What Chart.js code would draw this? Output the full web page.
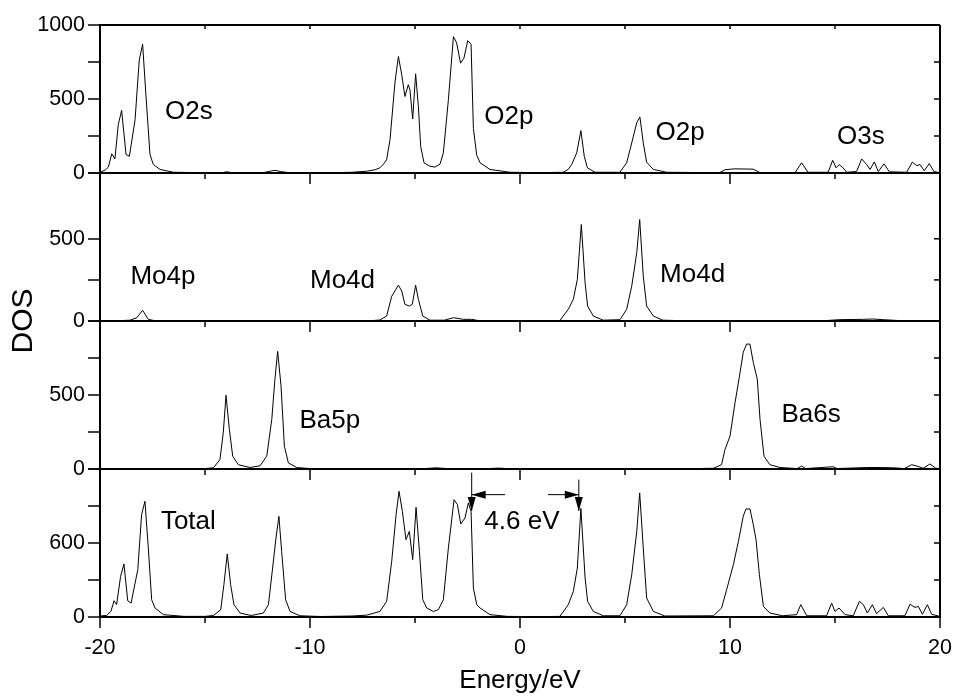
<!DOCTYPE html>
<html>
<head>
<meta charset="utf-8">
<title>DOS</title>
<script src="https://cdn.jsdelivr.net/npm/chart.js@4.4.1/dist/chart.umd.min.js"></script>
<style>
  html, body { margin: 0; padding: 0; background: #fff; }
  #wrap { width: 961px; height: 697px; }
</style>
</head>
<body>
<div id="wrap"><canvas id="dosChart" width="961" height="697"></canvas></div>
<script>
// Energy axis
const energyTicks = [-20, -10, 0, 10, 20];

// O partial DOS
const oEnergy = [-20, -19.75, -19.6, -19.44, -19.29, -19.13, -18.97, -18.76, -18.6, -18.33, -18.13, -17.97, -17.81, -17.62, -17.46, -17.14, -16.5, -15, -14.2, -13.97, -13.7, -12.2, -11.9, -11.67, -11.4, -11.0, -9, -8, -7.3, -6.9, -6.67, -6.5, -6.35, -6.19, -5.95, -5.79, -5.63, -5.48, -5.32, -5.24, -5.11, -4.97, -4.84, -4.73, -4.57, -4.29, -4.05, -3.81, -3.65, -3.41, -3.17, -3.02, -2.83, -2.67, -2.49, -2.33, -2.22, -2.06, -1.9, -1.43, -0.48, 1, 2.06, 2.3, 2.46, 2.7, 2.9, 3.06, 3.21, 3.57, 4.76, 5.08, 5.32, 5.56, 5.71, 5.87, 6.03, 6.35, 6.98, 9.5, 9.76, 10.2, 11.1, 11.43, 13.1, 13.41, 13.71, 14.67, 14.89, 15.05, 15.2, 15.38, 15.56, 16.03, 16.27, 16.51, 16.67, 16.87, 17.06, 17.33, 17.59, 18.41, 18.68, 18.89, 19.05, 19.25, 19.49, 19.71, 20];
const oDos = [5, 20, 40, 130, 95, 327, 423, 125, 113, 360, 764, 870, 520, 125, 57, 24, 5, 2, 2, 8, 2, 3, 12, 18, 10, 2, 2, 5, 12, 22, 35, 60, 90, 225, 618, 787, 663, 517, 596, 562, 365, 670, 450, 180, 69, 46, 40, 60, 136, 495, 921, 881, 742, 776, 894, 870, 300, 120, 69, 24, 5, 2, 5, 25, 57, 136, 286, 113, 35, 5, 5, 69, 203, 340, 378, 203, 73, 24, 5, 2, 22, 28, 26, 3, 3, 69, 5, 5, 86, 35, 57, 35, 5, 10, 95, 57, 24, 75, 10, 62, 8, 5, 73, 50, 57, 15, 64, 10, 2];
const oTicks = [0, 500, 1000];

// Mo partial DOS
const moEnergy = [-20, -18.9, -18.57, -18.25, -17.97, -17.7, -17.4, -12, -7, -6.67, -6.35, -6.11, -5.79, -5.63, -5.48, -5.27, -5.13, -4.97, -4.84, -4.63, -4.29, -3.6, -3.17, -2.7, -2.3, -2.0, 1.0, 1.9, 2.3, 2.54, 2.73, 2.92, 3.1, 3.22, 3.49, 3.97, 4.76, 5.08, 5.32, 5.56, 5.7, 5.87, 6.03, 6.35, 6.8, 8, 14.5, 15.2, 16.3, 16.8, 17.3, 18, 20];
const moDos = [0, 3, 5, 20, 65, 10, 2, 1, 3, 6, 30, 150, 218, 182, 101, 91, 101, 217, 132, 30, 5, 5, 20, 10, 10, 3, 1, 3, 71, 132, 253, 587, 233, 91, 30, 5, 8, 71, 212, 415, 617, 273, 91, 30, 5, 1, 2, 8, 10, 12, 8, 3, 2];
const moTicks = [0, 500];

// Ba partial DOS
const baEnergy = [-20, -15, -14.6, -14.29, -14.13, -14.0, -13.84, -13.68, -13.41, -12.86, -12.38, -12.06, -11.82, -11.67, -11.54, -11.38, -11.22, -11.03, -10.63, -10, -4.5, -4, -3.5, -1.5, -1, -0.5, 8, 9.21, 9.6, 9.76, 10.0, 10.24, 10.44, 10.63, 10.79, 10.95, 11.11, 11.3, 11.43, 11.62, 11.9, 12.38, 13.2, 13.41, 13.6, 14.9, 15.1, 16.5, 17.2, 17.8, 18.3, 18.65, 18.9, 19.2, 19.52, 19.8, 20];
const baDos = [0, 3, 8, 63, 245, 498, 267, 86, 29, 10, 22, 86, 335, 607, 795, 561, 154, 41, 10, 3, 3, 8, 3, 3, 6, 2, 2, 5, 29, 131, 222, 448, 618, 788, 844, 844, 720, 607, 335, 86, 29, 10, 3, 20, 3, 15, 3, 10, 10, 8, 3, 29, 20, 5, 34, 5, 3];
const baTicks = [0, 500];

// Total DOS
const totEnergy = [-20, -19.68, -19.48, -19.33, -19.21, -19.02, -18.86, -18.68, -18.52, -18.2, -18.02, -17.86, -17.7, -17.54, -17.38, -16.98, -16.0, -15, -14.6, -14.25, -14.1, -13.94, -13.78, -13.62, -13.33, -12.8, -12.22, -11.98, -11.78, -11.62, -11.48, -11.35, -11.16, -10.95, -10.48, -9.5, -8, -7.3, -6.67, -6.35, -6.11, -5.9, -5.76, -5.6, -5.43, -5.27, -5.11, -4.95, -4.79, -4.63, -4.44, -4.13, -3.89, -3.65, -3.41, -3.14, -2.98, -2.82, -2.62, -2.46, -2.33, -2.22, -2.06, -1.9, -1.43, -0.6, 1, 1.9, 2.3, 2.54, 2.73, 2.9, 3.1, 3.22, 3.49, 3.97, 4.76, 5.08, 5.32, 5.56, 5.7, 5.87, 6.03, 6.35, 6.9, 9.21, 9.6, 9.84, 10.16, 10.4, 10.63, 10.76, 10.95, 11.11, 11.24, 11.4, 11.59, 11.9, 12.5, 13.17, 13.37, 13.65, 14.6, 14.84, 15.0, 15.19, 15.48, 15.87, 16.16, 16.35, 16.54, 16.78, 16.98, 17.3, 17.54, 18.33, 18.57, 18.81, 18.97, 19.16, 19.4, 19.6, 20];
const totDos = [8, 13, 45, 132, 100, 329, 430, 132, 113, 384, 830, 938, 560, 140, 73, 19, 5, 5, 12, 59, 262, 511, 262, 100, 32, 12, 32, 100, 397, 641, 816, 532, 140, 45, 10, 4, 8, 15, 45, 127, 451, 830, 1019, 856, 627, 694, 465, 889, 532, 140, 73, 45, 59, 140, 560, 951, 911, 754, 803, 925, 856, 235, 100, 73, 19, 5, 3, 5, 100, 208, 397, 880, 316, 127, 45, 10, 10, 100, 343, 694, 1006, 560, 154, 45, 8, 10, 73, 221, 424, 613, 816, 876, 876, 749, 627, 343, 86, 32, 10, 19, 100, 10, 10, 113, 45, 73, 19, 10, 127, 100, 32, 100, 27, 78, 10, 10, 103, 78, 86, 22, 100, 22, 5];
const totTicks = [0, 600];

// Peak labels (panel, text, energy, dos)
const panelNotes = [
    { axis: 'yO', text: 'O2s', e: -16.9, v: 410 },
    { axis: 'yO', text: 'O2p', e: -1.7, v: 380 },
    { axis: 'yO', text: 'O2p', e: 6.45, v: 272 },
    { axis: 'yO', text: 'O3s', e: 15.1, v: 242 },
    { axis: 'yMo', text: 'Mo4p', e: -18.55, v: 271 },
    { axis: 'yMo', text: 'Mo4d', e: -10.0, v: 243 },
    { axis: 'yMo', text: 'Mo4d', e: 6.67, v: 283 },
    { axis: 'yBa', text: 'Ba5p', e: -10.5, v: 328 },
    { axis: 'yBa', text: 'Ba6s', e: 12.45, v: 369 },
    { axis: 'yTot', text: 'Total', e: -17.1, v: 775 },
    { axis: 'yTot', text: '4.6 eV', e: -1.7, v: 775 }
];

// Band gap marker: valence band top and conduction band bottom
const gapEdges = [-2.3, 2.8];

const FONT = '"Liberation Sans", Arial, sans-serif';
Chart.defaults.font.family = FONT;
Chart.defaults.color = '#000';

function pairs(xs, ys) {
    return xs.map((x, i) => ({ x: x, y: ys[i] }));
}

function line(ctx, x1, y1, x2, y2) {
    ctx.beginPath();
    ctx.moveTo(x1, y1);
    ctx.lineTo(x2, y2);
    ctx.stroke();
}

function arrowHead(ctx, tipX, tipY, dx, dy, len, half) {
    // dx, dy: unit direction the arrow points to
    const bx = tipX - dx * len;
    const by = tipY - dy * len;
    ctx.beginPath();
    ctx.moveTo(tipX, tipY);
    ctx.lineTo(bx - dy * half, by + dx * half);
    ctx.lineTo(bx + dy * half, by - dx * half);
    ctx.closePath();
    ctx.fill();
}

// y axis for one panel
function panelAxis(weight, max, step, labels, drawTop) {
    return {
        type: 'linear',
        position: 'left',
        stack: 'dos',
        stackWeight: 1,
        weight: weight,
        min: 0,
        max: max,
        border: { display: true, color: '#000', width: 2 },
        grid: {
            color: c => (c.tick && (c.tick.value === 0 || (drawTop && c.tick.value === max))) ? '#000' : 'rgba(0,0,0,0)',
            lineWidth: 2,
            drawTicks: true,
            tickLength: 12,
            tickColor: '#000',
            tickWidth: 1.5
        },
        ticks: {
            stepSize: step,
            autoSkip: false,
            padding: 3,
            font: { size: 21.5 },
            color: '#000',
            callback: v => labels.includes(v) ? String(v) : ''
        },
        afterFit: s => { s.width = 100; }
    };
}

const frameDecor = {
    id: 'frameDecor',
    afterDatasetsDraw(chart) {
        const ctx = chart.ctx;
        const area = chart.chartArea;
        const xs = chart.scales.x;
        const ids = ['yO', 'yMo', 'yBa', 'yTot'];
        ctx.save();
        ctx.strokeStyle = '#000';
        ctx.fillStyle = '#000';

        // inward minor ticks on the right frame
        ctx.lineWidth = 1.5;
        ids.forEach(id => {
            const s = chart.scales[id];
            s.ticks.forEach(t => {
                if (t.value <= s.min || t.value >= s.max) return;
                const py = s.getPixelForValue(t.value);
                line(ctx, area.right, py, area.right - 6, py);
            });
        });

        // energy ticks below each panel (major 10 eV, minor 5 eV)
        const lows = ids.map(id => chart.scales[id].bottom);
        lows.forEach(yb => {
            for (let e = -20; e <= 20; e += 5) {
                const px = xs.getPixelForValue(e);
                const major = energyTicks.includes(e);
                line(ctx, px, yb, px, yb + (major ? 11 : 6));
            }
        });
        // small ticks inside the top frame
        for (let e = -15; e <= 15; e += 5) {
            const px = xs.getPixelForValue(e);
            line(ctx, px, area.top, px, area.top + 4);
        }

        // peak labels
        ctx.font = '26px ' + FONT;
        ctx.textAlign = 'left';
        ctx.textBaseline = 'middle';
        panelNotes.forEach(n => {
            const s = chart.scales[n.axis];
            ctx.fillText(n.text, xs.getPixelForValue(n.e), s.getPixelForValue(n.v));
        });

        // band gap arrows in the total panel
        const yt = chart.scales.yTot;
        const xv = xs.getPixelForValue(gapEdges[0]);
        const xc = xs.getPixelForValue(gapEdges[1]);
        const tipY = yt.getPixelForValue(860);
        const barY = yt.getPixelForValue(992);
        ctx.lineWidth = 1;
        line(ctx, xv, yt.getPixelForValue(1170), xv, tipY);
        line(ctx, xc, yt.getPixelForValue(1114), xc, tipY);
        arrowHead(ctx, xv, tipY, 0, 1, 14, 4);
        arrowHead(ctx, xc, tipY, 0, 1, 14, 4);
        line(ctx, xs.getPixelForValue(-0.71), barY, xv, barY);
        line(ctx, xs.getPixelForValue(1.33), barY, xc, barY);
        arrowHead(ctx, xv, barY, -1, 0, 14, 4);
        arrowHead(ctx, xc, barY, 1, 0, 14, 4);

        // shared y title
        ctx.font = '30px ' + FONT;
        ctx.textAlign = 'center';
        ctx.translate(24, (area.top + area.bottom) / 2);
        ctx.rotate(-Math.PI / 2);
        ctx.fillText('DOS', 0, 0);
        ctx.restore();
    }
};

function dosLine(xs, ys, axis) {
    return {
        data: pairs(xs, ys),
        yAxisID: axis,
        borderColor: '#000',
        borderWidth: 1,
        pointRadius: 0,
        tension: 0,
        fill: false
    };
}

window.addEventListener('load', function() {
    new Chart(document.getElementById('dosChart'), {
        type: 'line',
        data: {
            datasets: [
                dosLine(oEnergy, oDos, 'yO'),
                dosLine(moEnergy, moDos, 'yMo'),
                dosLine(baEnergy, baDos, 'yBa'),
                dosLine(totEnergy, totDos, 'yTot')
            ]
        },
        options: {
            responsive: false,
            animation: false,
            events: [],
            layout: { padding: { top: 25, right: 21, left: 0, bottom: 0 } },
            plugins: { legend: { display: false }, tooltip: { enabled: false } },
            scales: {
                x: {
                    type: 'linear',
                    min: -20,
                    max: 20,
                    border: { display: true, color: '#000', width: 2 },
                    grid: {
                        color: c => (c.tick && Math.abs(c.tick.value) === 20) ? '#000' : 'rgba(0,0,0,0)',
                        lineWidth: 2,
                        drawTicks: false
                    },
                    ticks: {
                        stepSize: 5,
                        autoSkip: false,
                        maxRotation: 0,
                        padding: 18,
                        font: { size: 21.5 },
                        color: '#000',
                        callback: v => energyTicks.includes(v) ? String(v) : ''
                    },
                    title: {
                        display: true,
                        text: 'Energy/eV',
                        color: '#000',
                        font: { size: 26 },
                        padding: { top: 4, bottom: 1 }
                    },
                    afterFit: s => {
                        s.height = 80;
                        s.paddingLeft = 0;
                        s.paddingRight = 0;
                    }
                },
                yO: panelAxis(4, 1000, 250, oTicks, true),
                yMo: panelAxis(3, 900, 250, moTicks, false),
                yBa: panelAxis(2, 1000, 250, baTicks, false),
                yTot: panelAxis(1, 1200, 300, totTicks, false)
            }
        },
        plugins: [frameDecor]
    });
});
</script>
</body>
</html>
